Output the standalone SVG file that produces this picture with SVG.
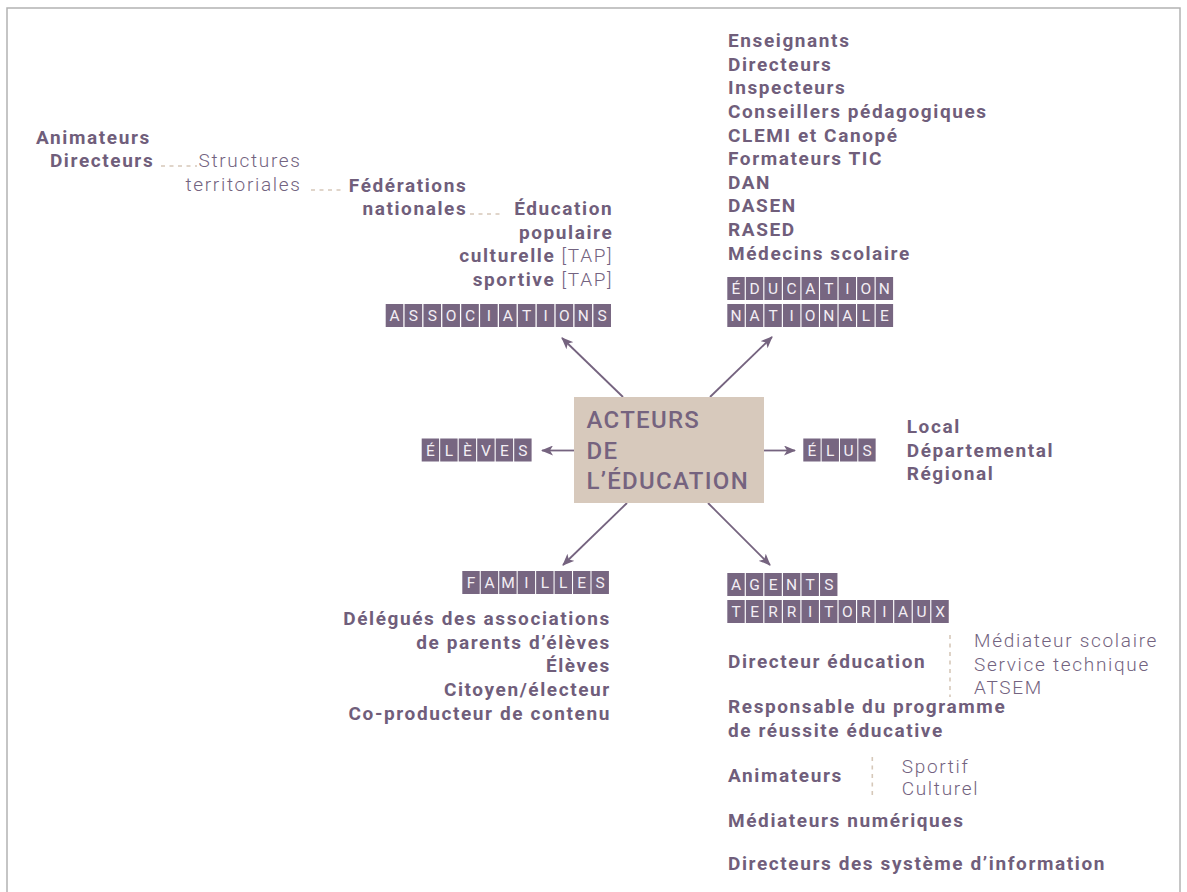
<svg xmlns="http://www.w3.org/2000/svg" width="1187" height="892" viewBox="0 0 1187 892">
<defs>
<style>
.b{font-family:"Roboto","Liberation Sans",sans-serif;font-weight:700;font-size:19px;letter-spacing:1.6px;fill:#705e7b}
.r{font-family:"Roboto","Liberation Sans",sans-serif;font-weight:300;font-size:19px;letter-spacing:1.7px;fill:#736380}
.e{text-anchor:end}
.t{fill:#776681}
.tl{font-family:"Roboto","Liberation Sans",sans-serif;font-weight:400;font-size:15.5px;fill:#f3eef4;text-anchor:middle}
.dot{stroke:#d6c8b9;stroke-width:1.6;stroke-dasharray:4 4.5;fill:none}
.conn{stroke:#75637f;stroke-width:1.8;fill:none;marker-end:url(#ah)}
.ctr{font-family:"Roboto","Liberation Sans",sans-serif;font-weight:500;font-size:24px;letter-spacing:1.3px;fill:#75637f}
</style>
<marker id="ah" viewBox="0 0 12 10" refX="11" refY="5" markerWidth="12" markerHeight="10" markerUnits="userSpaceOnUse" orient="auto">
<path d="M0,0 L12,5 L0,10 L3,5 z" fill="#75637f"/>
</marker>
</defs>
<rect x="7" y="8" width="1173" height="900" fill="#fff" stroke="#b3b3b3" stroke-width="1.5"/>

<g id="connectors">
<line class="conn" x1="623" y1="397" x2="562" y2="338"/>
<line class="conn" x1="710" y1="397" x2="772" y2="337"/>
<line class="conn" x1="627" y1="503" x2="563" y2="565"/>
<line class="conn" x1="708" y1="503" x2="770" y2="565"/>
<line class="conn" x1="574" y1="450.5" x2="542" y2="450.5"/>
<line class="conn" x1="764" y1="450.5" x2="795" y2="450.5"/>
</g>

<g id="center">
<rect x="574" y="397" width="190" height="106" fill="#d7c9bc"/>
<text class="ctr" x="586.5" y="428">ACTEURS</text>
<text class="ctr" x="586.5" y="458.5">DE</text>
<text class="ctr" x="586.5" y="489">L’ÉDUCATION</text>
</g>

<g id="associations">
<g>
<rect class="t" x="385.7" y="304" width="17.6" height="23"/>
<rect class="t" x="404.58" y="304" width="17.6" height="23"/>
<rect class="t" x="423.46" y="304" width="17.6" height="23"/>
<rect class="t" x="442.34" y="304" width="17.6" height="23"/>
<rect class="t" x="461.22" y="304" width="17.6" height="23"/>
<rect class="t" x="480.1" y="304" width="17.6" height="23"/>
<rect class="t" x="498.98" y="304" width="17.6" height="23"/>
<rect class="t" x="517.86" y="304" width="17.6" height="23"/>
<rect class="t" x="536.74" y="304" width="17.6" height="23"/>
<rect class="t" x="555.62" y="304" width="17.6" height="23"/>
<rect class="t" x="574.5" y="304" width="17.6" height="23"/>
<rect class="t" x="593.38" y="304" width="17.6" height="23"/>
<text class="tl" x="394.5 413.4 432.3 451.1 470 488.9 507.8 526.7 545.5 564.4 583.3 602.2" y="321">ASSOCIATIONS</text>
</g>
<text class="b" x="36" y="144">Animateurs</text>
<text class="b e" x="154.3" y="166.7">Directeurs</text>
<line class="dot" x1="161" y1="166" x2="197" y2="166"/>
<text class="r e" x="301.7" y="166.7">Structures</text>
<text class="r e" x="301.7" y="190.7">territoriales</text>
<line class="dot" x1="311" y1="190" x2="344" y2="190"/>
<text class="b e" x="467.3" y="191.7">Fédérations</text>
<text class="b e" x="467.3" y="215">nationales</text>
<line class="dot" x1="470" y1="214" x2="502" y2="214"/>
<text class="b e" x="613.3" y="215">Éducation</text>
<text class="b e" x="613.3" y="238.5">populaire</text>
<text class="b e" x="613.4" y="262">culturelle <tspan class="r">[TAP]</tspan></text>
<text class="b e" x="613.4" y="285.5">sportive <tspan class="r">[TAP]</tspan></text>
</g>

<g id="education-nationale">
<g>
<rect class="t" x="727.3" y="277" width="17.4" height="23"/>
<rect class="t" x="745.85" y="277" width="17.4" height="23"/>
<rect class="t" x="764.4" y="277" width="17.4" height="23"/>
<rect class="t" x="782.95" y="277" width="17.4" height="23"/>
<rect class="t" x="801.5" y="277" width="17.4" height="23"/>
<rect class="t" x="820.05" y="277" width="17.4" height="23"/>
<rect class="t" x="838.6" y="277" width="17.4" height="23"/>
<rect class="t" x="857.15" y="277" width="17.4" height="23"/>
<rect class="t" x="875.7" y="277" width="17.4" height="23"/>
<text class="tl" x="736 754.55 773.1 791.65 810.2 828.75 847.3 865.85 884.4" y="294">ÉDUCATION</text>
<rect class="t" x="727.3" y="304" width="17.4" height="23"/>
<rect class="t" x="745.85" y="304" width="17.4" height="23"/>
<rect class="t" x="764.4" y="304" width="17.4" height="23"/>
<rect class="t" x="782.95" y="304" width="17.4" height="23"/>
<rect class="t" x="801.5" y="304" width="17.4" height="23"/>
<rect class="t" x="820.05" y="304" width="17.4" height="23"/>
<rect class="t" x="838.6" y="304" width="17.4" height="23"/>
<rect class="t" x="857.15" y="304" width="17.4" height="23"/>
<rect class="t" x="875.7" y="304" width="17.4" height="23"/>
<text class="tl" x="736 754.55 773.1 791.65 810.2 828.75 847.3 865.85 884.4" y="321">NATIONALE</text>
</g>
<text class="b" x="728" y="47.2">Enseignants</text>
<text class="b" x="728" y="70.8">Directeurs</text>
<text class="b" x="728" y="94.4">Inspecteurs</text>
<text class="b" x="728" y="118">Conseillers pédagogiques</text>
<text class="b" x="728" y="141.6">CLEMI et Canopé</text>
<text class="b" x="728" y="165.2">Formateurs TIC</text>
<text class="b" x="728" y="188.8">DAN</text>
<text class="b" x="728" y="212.4">DASEN</text>
<text class="b" x="728" y="236">RASED</text>
<text class="b" x="728" y="259.6">Médecins scolaire</text>
</g>

<g id="eleves">
<rect class="t" x="421.7" y="438.5" width="17.4" height="23"/>
<rect class="t" x="440.2" y="438.5" width="17.4" height="23"/>
<rect class="t" x="458.7" y="438.5" width="17.4" height="23"/>
<rect class="t" x="477.2" y="438.5" width="17.4" height="23"/>
<rect class="t" x="495.7" y="438.5" width="17.4" height="23"/>
<rect class="t" x="514.2" y="438.5" width="17.4" height="23"/>
<text class="tl" x="430.4 448.9 467.4 485.9 504.4 522.9" y="455.5">ÉLÈVES</text>
</g>

<g id="elus">
<rect class="t" x="803.3" y="438.5" width="17.3" height="23"/>
<rect class="t" x="821.65" y="438.5" width="17.3" height="23"/>
<rect class="t" x="840" y="438.5" width="17.3" height="23"/>
<rect class="t" x="858.35" y="438.5" width="17.3" height="23"/>
<text class="tl" x="811.95 830.3 848.65 867" y="455.5">ÉLUS</text>
<text class="b" x="906.7" y="433.3">Local</text>
<text class="b" x="906.7" y="456.8">Départemental</text>
<text class="b" x="906.7" y="480.3">Régional</text>
</g>

<g id="familles">
<rect class="t" x="462.3" y="571" width="17.4" height="23"/>
<rect class="t" x="480.76" y="571" width="17.4" height="23"/>
<rect class="t" x="499.22" y="571" width="17.4" height="23"/>
<rect class="t" x="517.68" y="571" width="17.4" height="23"/>
<rect class="t" x="536.14" y="571" width="17.4" height="23"/>
<rect class="t" x="554.6" y="571" width="17.4" height="23"/>
<rect class="t" x="573.06" y="571" width="17.4" height="23"/>
<rect class="t" x="591.52" y="571" width="17.4" height="23"/>
<text class="tl" x="471 489.46 507.92 526.38 544.84 563.3 581.76 600.22" y="588">FAMILLES</text>
<text class="b e" x="610.9" y="625">Délégués des associations</text>
<text class="b e" x="610.9" y="648.7">de parents d’élèves</text>
<text class="b e" x="610.9" y="672.4">Élèves</text>
<text class="b e" x="610.9" y="696.1">Citoyen/électeur</text>
<text class="b e" x="610.9" y="719.8">Co-producteur de contenu</text>
</g>

<g id="agents-territoriaux">
<rect class="t" x="727.3" y="573" width="17.4" height="23"/>
<rect class="t" x="745.85" y="573" width="17.4" height="23"/>
<rect class="t" x="764.4" y="573" width="17.4" height="23"/>
<rect class="t" x="782.95" y="573" width="17.4" height="23"/>
<rect class="t" x="801.5" y="573" width="17.4" height="23"/>
<rect class="t" x="820.05" y="573" width="17.4" height="23"/>
<text class="tl" x="736 754.55 773.1 791.65 810.2 828.75" y="590">AGENTS</text>
<rect class="t" x="727.3" y="600" width="17.4" height="23"/>
<rect class="t" x="745.85" y="600" width="17.4" height="23"/>
<rect class="t" x="764.4" y="600" width="17.4" height="23"/>
<rect class="t" x="782.95" y="600" width="17.4" height="23"/>
<rect class="t" x="801.5" y="600" width="17.4" height="23"/>
<rect class="t" x="820.05" y="600" width="17.4" height="23"/>
<rect class="t" x="838.6" y="600" width="17.4" height="23"/>
<rect class="t" x="857.15" y="600" width="17.4" height="23"/>
<rect class="t" x="875.7" y="600" width="17.4" height="23"/>
<rect class="t" x="894.25" y="600" width="17.4" height="23"/>
<rect class="t" x="912.8" y="600" width="17.4" height="23"/>
<rect class="t" x="931.35" y="600" width="17.4" height="23"/>
<text class="tl" x="736 754.55 773.1 791.65 810.2 828.75 847.3 865.85 884.4 902.95 921.5 940.05" y="617">TERRITORIAUX</text>
<text class="b" x="728" y="668.3">Directeur éducation</text>
<line class="dot" x1="950" y1="635" x2="950" y2="697"/>
<text class="r" x="974" y="647.3">Médiateur scolaire</text>
<text class="r" x="974" y="670.5">Service technique</text>
<text class="r" x="974" y="693.5">ATSEM</text>
<text class="b" x="728" y="713.3">Responsable du programme</text>
<text class="b" x="728" y="736.7">de réussite éducative</text>
<text class="b" x="728" y="781.7">Animateurs</text>
<line class="dot" x1="872.3" y1="757" x2="872.3" y2="797"/>
<text class="r" x="901.7" y="772.7">Sportif</text>
<text class="r" x="901.7" y="795">Culturel</text>
<text class="b" x="728" y="826.7">Médiateurs numériques</text>
<text class="b" x="728" y="870">Directeurs des système d’information</text>
</g>
</svg>
